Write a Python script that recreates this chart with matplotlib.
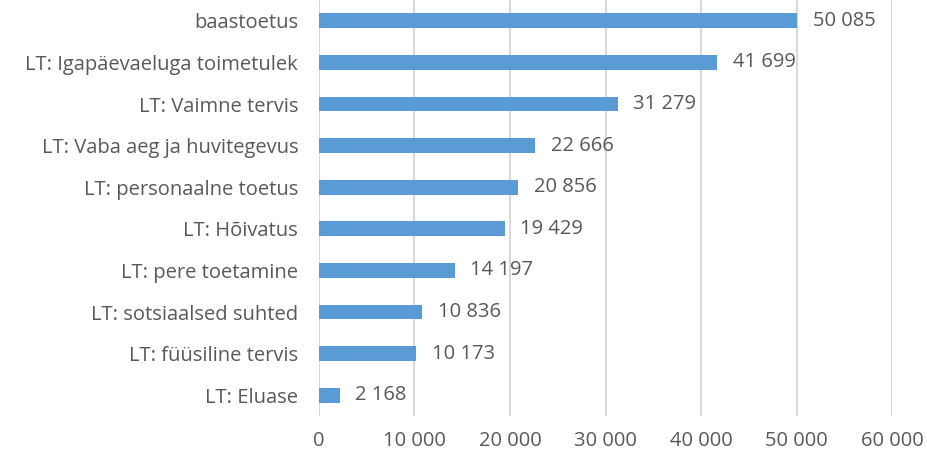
import matplotlib.pyplot as plt
import numpy as np

categories = ["baastoetus", "LT: Igapäevaeluga toimetulek", "LT: Vaimne tervis",
              "LT: Vaba aeg ja huvitegevus", "LT: personaalne toetus", "LT: Hõivatus",
              "LT: pere toetamine", "LT: sotsiaalsed suhted", "LT: füüsiline tervis",
              "LT: Eluase"]
values = [50085, 41699, 31279, 22666, 20856, 19429, 14197, 10836, 10173, 2168]
xticks = [0, 10000, 20000, 30000, 40000, 50000, 60000]

def fmt(v):
    return f"{v:,}".replace(",", " ")

text_color = "#595959"
plt.rcParams['font.family'] = ['Open Sans', 'DejaVu Sans']
fs = 14.5

fig = plt.figure(figsize=(9.28, 4.57), dpi=100)
ax = fig.add_axes([319/928, 1 - 416/457, (892 - 319)/928, 416/457])

y = np.arange(len(categories))[::-1]
ax.barh(y, values, height=0.36, color="#5B9BD5", zorder=3)
for yi, v in zip(y, values):
    ax.text(v + 1650, yi, fmt(v), va="center", ha="left", fontsize=fs, color=text_color)

ax.set_xlim(0, 60000)
ax.set_ylim(-0.5, len(categories) - 0.5)
ax.set_yticks(y)
ax.set_yticklabels(categories, fontsize=fs, color=text_color)
ax.set_xticks(xticks)
ax.set_xticklabels([fmt(t) for t in xticks], fontsize=fs, color=text_color)
ax.tick_params(axis="both", length=0)
ax.tick_params(axis="y", pad=15)
ax.tick_params(axis="x", pad=11)
ax.grid(axis="x", color="#D9D9D9", linewidth=1.5, zorder=0)
for s in ax.spines.values():
    s.set_visible(False)

fig.savefig("out.png", dpi=100)
